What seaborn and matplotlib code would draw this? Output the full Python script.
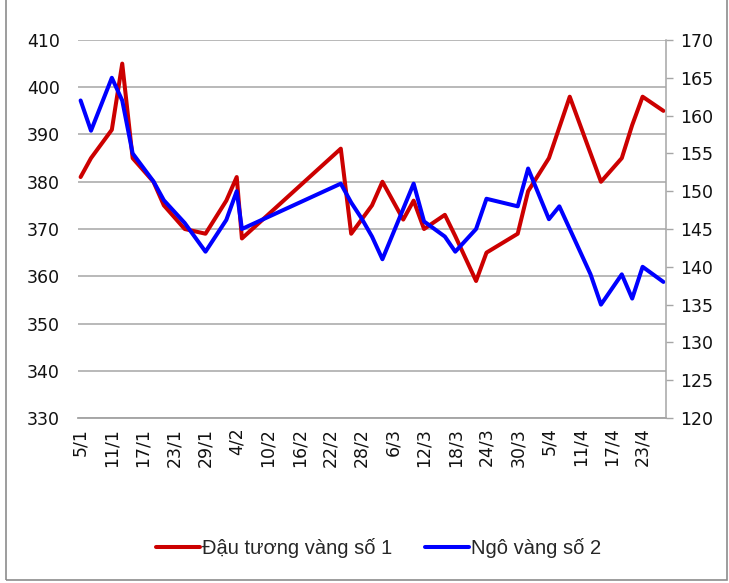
import pandas as pd
import matplotlib
matplotlib.use("Agg")
import matplotlib.pyplot as plt
from matplotlib.patches import Rectangle
import seaborn as sns

YEAR = 2010

# Đậu tương vàng số 1 (left axis)
soy_dates = ["5/1", "7/1", "11/1", "13/1", "15/1", "19/1", "21/1", "25/1", "29/1",
             "2/2", "4/2", "5/2", "24/2", "26/2", "28/2", "2/3", "4/3", "8/3",
             "10/3", "12/3", "16/3", "18/3", "22/3", "24/3", "30/3", "1/4", "5/4",
             "9/4", "15/4", "19/4", "21/4", "23/4", "27/4"]
soy_vals = [381, 385, 391, 405, 385, 380, 375, 370, 369,
            376, 381, 368, 387, 369, 372, 375, 380, 372,
            376, 370, 373, 368.5, 359, 365, 369, 378, 385,
            398, 380, 385, 392, 398, 395]

# Ngô vàng số 2 (right axis)
corn_dates = ["5/1", "7/1", "11/1", "13/1", "15/1", "19/1", "21/1", "25/1", "29/1",
              "2/2", "4/2", "5/2", "24/2", "26/2", "28/2", "2/3", "4/3", "10/3",
              "12/3", "16/3", "18/3", "22/3", "24/3", "30/3", "1/4", "5/4", "7/4",
              "13/4", "15/4", "19/4", "21/4", "23/4", "27/4"]
corn_vals = [162, 158, 165, 162, 155, 151.3, 148.8, 145.8, 142,
             146.2, 150, 145, 151, 148.5, 146.4, 144, 141, 151,
             146, 144, 142, 145, 149, 148, 153, 146.3, 148,
             139, 135, 139, 135.8, 140, 138]

soy_label = "Đậu tương vàng số 1"
corn_label = "Ngô vàng số 2"

tick_dates = ["5/1", "11/1", "17/1", "23/1", "29/1", "4/2", "10/2", "16/2", "22/2",
              "28/2", "6/3", "12/3", "18/3", "24/3", "30/3", "5/4", "11/4", "17/4", "23/4"]


def to_dt(lst):
    return pd.to_datetime([f"{s}/{YEAR}" for s in lst], format="%d/%m/%Y")


soy = pd.DataFrame({"date": to_dt(soy_dates), "value": soy_vals})
corn = pd.DataFrame({"date": to_dt(corn_dates), "value": corn_vals})

sns.set_style("white")
plt.rcParams['font.family'] = ['DejaVu Sans']

fig = plt.figure(figsize=(7.29, 5.83), dpi=100)
ax = fig.add_axes([0.107, 0.283, 0.8066, 0.6484])
ax2 = ax.twinx()

red = "#CC0000"
blue = "#0000FF"
grid_c = "#A6A6A6"

sns.lineplot(data=soy, x="date", y="value", ax=ax, color=red, linewidth=2.9,
             label=soy_label, legend=False)
sns.lineplot(data=corn, x="date", y="value", ax=ax2, color=blue, linewidth=2.9,
             label=corn_label, legend=False)

ax.set_ylim(330, 410)
ax.set_yticks(range(330, 411, 10))
ax2.set_ylim(120, 170)
ax2.set_yticks(range(120, 171, 5))

x0 = to_dt(["5/1"])[0] - pd.Timedelta(hours=12)
x1 = to_dt(["27/4"])[0] + pd.Timedelta(hours=12)
ax.set_xlim(x0, x1)
ax.set_xticks(to_dt(tick_dates))
ax.set_xticklabels(tick_dates, rotation=90, fontsize=12.5, color="#111111")
ax.tick_params(axis="x", length=0, pad=7)

ax.yaxis.grid(True, color=grid_c, linewidth=1.1)
ax.set_axisbelow(True)
ax.tick_params(axis="y", length=0, labelsize=12.5, labelcolor="#111111", pad=13)
ax2.tick_params(axis="y", length=5, width=1, color=grid_c, labelsize=12.5,
                labelcolor="#111111", pad=5)

for a in (ax, ax2):
    a.set_xlabel("")
    a.set_ylabel("")
    for s in ("top", "left"):
        a.spines[s].set_visible(False)
    a.spines["right"].set_color(grid_c)
    a.spines["bottom"].set_color(grid_c)
    a.spines["right"].set_linewidth(1.1)
    a.spines["bottom"].set_linewidth(1.1)
ax.spines["right"].set_visible(False)

h1, l1 = ax.get_legend_handles_labels()
h2, l2 = ax2.get_legend_handles_labels()
fig.legend(h1 + h2, l1 + l2, loc="center", bbox_to_anchor=(0.519, 0.06), ncol=2,
           frameon=False, handlelength=2.2, handletextpad=0.1, columnspacing=1.6,
           prop={"family": "Liberation Sans", "size": 14.5})

# chart-area border (left, right, bottom)
fig.patches.append(Rectangle((6 / 729, 3 / 583), 721 / 729, 1.05, transform=fig.transFigure,
                             fill=False, edgecolor="#8C8C8C", linewidth=1.2))

fig.savefig("out.png", dpi=100)
